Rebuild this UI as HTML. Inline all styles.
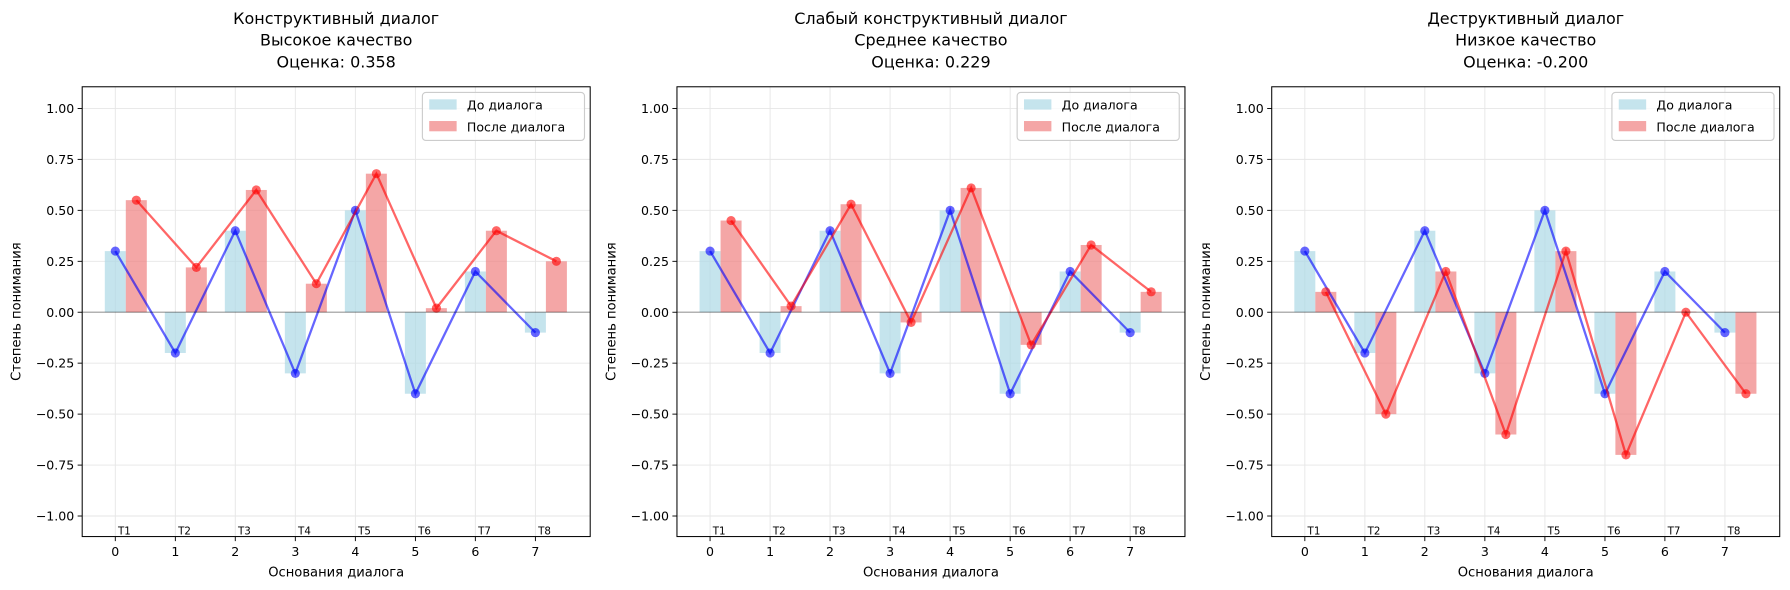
<!DOCTYPE html>
<html><head><meta charset="utf-8"><style>
body{margin:0;background:#fff}
svg text{font-family:"DejaVu Sans","Liberation Sans",sans-serif;fill:#000}
</style></head><body>
<svg width="1790" height="590" viewBox="0 0 1568 516.8" xmlns="http://www.w3.org/2000/svg" style="display:block">
<defs>
<g id="frame">
  <rect x="72" y="76" width="445" height="394" fill="#fff"/>
  <g stroke="#e6e6e6" stroke-width="0.8">
    <line x1="101" y1="76" x2="101" y2="470"/><line x1="153.6" y1="76" x2="153.6" y2="470"/>
    <line x1="206.1" y1="76" x2="206.1" y2="470"/><line x1="258.7" y1="76" x2="258.7" y2="470"/>
    <line x1="311.3" y1="76" x2="311.3" y2="470"/><line x1="363.9" y1="76" x2="363.9" y2="470"/>
    <line x1="416.4" y1="76" x2="416.4" y2="470"/><line x1="469" y1="76" x2="469" y2="470"/>
    <line x1="72" y1="95" x2="517" y2="95"/><line x1="72" y1="139.6" x2="517" y2="139.6"/>
    <line x1="72" y1="184.25" x2="517" y2="184.25"/><line x1="72" y1="228.9" x2="517" y2="228.9"/>
    <line x1="72" y1="318.1" x2="517" y2="318.1"/><line x1="72" y1="362.75" x2="517" y2="362.75"/>
    <line x1="72" y1="407.4" x2="517" y2="407.4"/><line x1="72" y1="452" x2="517" y2="452"/>
  </g>
</g>
<g id="axes">
  <line x1="72" y1="273.5" x2="517" y2="273.5" stroke="#000" stroke-opacity="0.4" stroke-width="1"/>
  <rect x="72" y="76" width="445" height="394" fill="none" stroke="#000" stroke-width="0.9"/>
  <g stroke="#000" stroke-width="0.8">
    <line x1="101" y1="470" x2="101" y2="474"/><line x1="153.6" y1="470" x2="153.6" y2="474"/>
    <line x1="206.1" y1="470" x2="206.1" y2="474"/><line x1="258.7" y1="470" x2="258.7" y2="474"/>
    <line x1="311.3" y1="470" x2="311.3" y2="474"/><line x1="363.9" y1="470" x2="363.9" y2="474"/>
    <line x1="416.4" y1="470" x2="416.4" y2="474"/><line x1="469" y1="470" x2="469" y2="474"/>
    <line x1="68" y1="95" x2="72" y2="95"/><line x1="68" y1="139.6" x2="72" y2="139.6"/>
    <line x1="68" y1="184.25" x2="72" y2="184.25"/><line x1="68" y1="228.9" x2="72" y2="228.9"/>
    <line x1="68" y1="273.5" x2="72" y2="273.5"/><line x1="68" y1="318.1" x2="72" y2="318.1"/>
    <line x1="68" y1="362.75" x2="72" y2="362.75"/><line x1="68" y1="407.4" x2="72" y2="407.4"/>
    <line x1="68" y1="452" x2="72" y2="452"/>
  </g>
  <g font-size="11" text-anchor="middle">
    <text x="101" y="487">0</text><text x="153.6" y="487">1</text><text x="206.1" y="487">2</text>
    <text x="258.7" y="487">3</text><text x="311.3" y="487">4</text><text x="363.9" y="487">5</text>
    <text x="416.4" y="487">6</text><text x="469" y="487">7</text>
    <text x="294.5" y="505" font-size="11.5">Основания диалога</text>
  </g>
  <g font-size="9" text-anchor="middle">
    <text x="109" y="468">T1</text><text x="161.6" y="468">T2</text><text x="214.1" y="468">T3</text>
    <text x="266.7" y="468">T4</text><text x="319.3" y="468">T5</text><text x="371.9" y="468">T6</text>
    <text x="424.4" y="468">T7</text><text x="477" y="468">T8</text>
  </g>
  <g font-size="11" text-anchor="end">
    <text x="65" y="99">1.00</text><text x="65" y="143.6">0.75</text><text x="65" y="188.2">0.50</text>
    <text x="65" y="232.9">0.25</text><text x="65" y="277.5">0.00</text><text x="65" y="322.1">−0.25</text>
    <text x="65" y="366.7">−0.50</text><text x="65" y="411.4">−0.75</text><text x="65" y="456">−1.00</text>
  </g>
  <text transform="translate(18 273) rotate(-90)" font-size="11.5" text-anchor="middle">Степень понимания</text>
  <rect x="370" y="81" width="142" height="42" rx="3" fill="#fff" fill-opacity="0.8" stroke="#ccc"/>
  <rect x="376" y="87" width="24" height="9" fill="#add8e6" fill-opacity="0.7"/>
  <rect x="376" y="106" width="24" height="9" fill="#f08080" fill-opacity="0.7"/>
  <text x="409" y="96" font-size="11">До диалога</text>
  <text x="409" y="115" font-size="11">После диалога</text>
</g>
<g id="blue">
  <g transform="translate(101 273.5) scale(52.57 -178.5)" fill="#add8e6" fill-opacity="0.7">
    <rect x="-0.175" y="0" width="0.35" height="0.3"/><rect x="0.825" y="-0.2" width="0.35" height="0.2"/>
    <rect x="1.825" y="0" width="0.35" height="0.4"/><rect x="2.825" y="-0.3" width="0.35" height="0.3"/>
    <rect x="3.825" y="0" width="0.35" height="0.5"/><rect x="4.825" y="-0.4" width="0.35" height="0.4"/>
    <rect x="5.825" y="0" width="0.35" height="0.2"/><rect x="6.825" y="-0.1" width="0.35" height="0.1"/>
  </g>
</g>
<g id="bluel">
  <polyline points="101,219.9 153.6,309.2 206.1,202.1 258.7,327.1 311.3,184.25 363.9,344.9 416.4,237.8 469,291.35" fill="none" stroke="#0000ff" stroke-opacity="0.6" stroke-width="2"/>
  <g fill="#0000ff" fill-opacity="0.6">
    <circle cx="101" cy="219.9" r="4"/><circle cx="153.6" cy="309.2" r="4"/><circle cx="206.1" cy="202.1" r="4"/>
    <circle cx="258.7" cy="327.1" r="4"/><circle cx="311.3" cy="184.25" r="4"/><circle cx="363.9" cy="344.9" r="4"/>
    <circle cx="416.4" cy="237.8" r="4"/><circle cx="469" cy="291.35" r="4"/>
  </g>
</g>
</defs>

<g>
<use href="#frame"/><use href="#blue"/>
<g transform="translate(101 273.5) scale(52.57 -178.5)" fill="#f08080" fill-opacity="0.7">
  <rect x="0.175" y="0" width="0.35" height="0.55"/><rect x="1.175" y="0" width="0.35" height="0.22"/>
  <rect x="2.175" y="0" width="0.35" height="0.6"/><rect x="3.175" y="0" width="0.35" height="0.14"/>
  <rect x="4.175" y="0" width="0.35" height="0.68"/><rect x="5.175" y="0" width="0.35" height="0.02"/>
  <rect x="6.175" y="0" width="0.35" height="0.4"/><rect x="7.175" y="0" width="0.35" height="0.25"/>
</g>
<use href="#bluel"/>
<polyline points="119.4,175.3 172,234.2 224.5,166.4 277.1,248.5 329.7,152.1 382.3,269.9 434.8,202.1 487.4,228.9" fill="none" stroke="#ff0000" stroke-opacity="0.6" stroke-width="2"/>
<g fill="#ff0000" fill-opacity="0.6">
  <circle cx="119.4" cy="175.3" r="4"/><circle cx="172" cy="234.2" r="4"/><circle cx="224.5" cy="166.4" r="4"/><circle cx="277.1" cy="248.5" r="4"/>
  <circle cx="329.7" cy="152.1" r="4"/><circle cx="382.3" cy="269.9" r="4"/><circle cx="434.8" cy="202.1" r="4"/><circle cx="487.4" cy="228.9" r="4"/>
</g>
<use href="#axes"/>
<g font-size="14" text-anchor="middle">
  <text x="294.5" y="21">Конструктивный диалог</text><text x="294.5" y="40">Высокое качество</text><text x="294.5" y="59">Оценка: 0.358</text>
</g>
</g>

<g transform="translate(521 0)">
<use href="#frame"/><use href="#blue"/>
<g transform="translate(101 273.5) scale(52.57 -178.5)" fill="#f08080" fill-opacity="0.7">
  <rect x="0.175" y="0" width="0.35" height="0.45"/><rect x="1.175" y="0" width="0.35" height="0.03"/>
  <rect x="2.175" y="0" width="0.35" height="0.53"/><rect x="3.175" y="-0.05" width="0.35" height="0.05"/>
  <rect x="4.175" y="0" width="0.35" height="0.61"/><rect x="5.175" y="-0.16" width="0.35" height="0.16"/>
  <rect x="6.175" y="0" width="0.35" height="0.33"/><rect x="7.175" y="0" width="0.35" height="0.1"/>
</g>
<use href="#bluel"/>
<polyline points="119.4,193.2 172,268.1 224.5,178.9 277.1,282.4 329.7,164.6 382.3,302.1 434.8,214.6 487.4,255.65" fill="none" stroke="#ff0000" stroke-opacity="0.6" stroke-width="2"/>
<g fill="#ff0000" fill-opacity="0.6">
  <circle cx="119.4" cy="193.2" r="4"/><circle cx="172" cy="268.1" r="4"/><circle cx="224.5" cy="178.9" r="4"/><circle cx="277.1" cy="282.4" r="4"/>
  <circle cx="329.7" cy="164.6" r="4"/><circle cx="382.3" cy="302.1" r="4"/><circle cx="434.8" cy="214.6" r="4"/><circle cx="487.4" cy="255.65" r="4"/>
</g>
<use href="#axes"/>
<g font-size="14" text-anchor="middle">
  <text x="294.5" y="21">Слабый конструктивный диалог</text><text x="294.5" y="40">Среднее качество</text><text x="294.5" y="59">Оценка: 0.229</text>
</g>
</g>

<g transform="translate(1042 0)">
<use href="#frame"/><use href="#blue"/>
<g transform="translate(101 273.5) scale(52.57 -178.5)" fill="#f08080" fill-opacity="0.7">
  <rect x="0.175" y="0" width="0.35" height="0.1"/><rect x="1.175" y="-0.5" width="0.35" height="0.5"/>
  <rect x="2.175" y="0" width="0.35" height="0.2"/><rect x="3.175" y="-0.6" width="0.35" height="0.6"/>
  <rect x="4.175" y="0" width="0.35" height="0.3"/><rect x="5.175" y="-0.7" width="0.35" height="0.7"/>
  <rect x="6.175" y="0" width="0.35" height="0.003"/><rect x="7.175" y="-0.4" width="0.35" height="0.4"/>
</g>
<use href="#bluel"/>
<polyline points="119.4,255.65 172,362.75 224.5,237.8 277.1,380.6 329.7,219.9 382.3,398.45 434.8,273.5 487.4,344.9" fill="none" stroke="#ff0000" stroke-opacity="0.6" stroke-width="2"/>
<g fill="#ff0000" fill-opacity="0.6">
  <circle cx="119.4" cy="255.65" r="4"/><circle cx="172" cy="362.75" r="4"/><circle cx="224.5" cy="237.8" r="4"/><circle cx="277.1" cy="380.6" r="4"/>
  <circle cx="329.7" cy="219.9" r="4"/><circle cx="382.3" cy="398.45" r="4"/><circle cx="434.8" cy="273.5" r="4"/><circle cx="487.4" cy="344.9" r="4"/>
</g>
<use href="#axes"/>
<g font-size="14" text-anchor="middle">
  <text x="294.5" y="21">Деструктивный диалог</text><text x="294.5" y="40">Низкое качество</text><text x="294.5" y="59">Оценка: -0.200</text>
</g>
</g>
</svg>
</body></html>
